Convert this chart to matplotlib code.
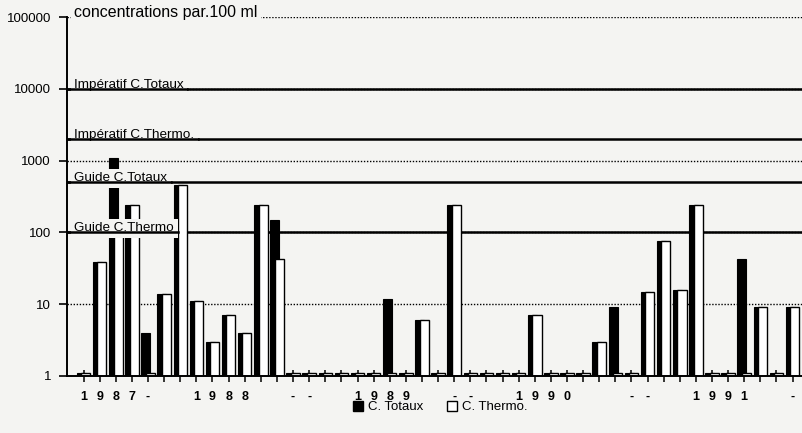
import matplotlib
matplotlib.use("Agg")
import matplotlib.pyplot as plt
from matplotlib.patches import Patch
from matplotlib.ticker import FixedLocator, NullLocator
import numpy as np

# Monthly samples, one character of the year label under each month
month_labels = ["1", "9", "8", "7", "-", "", "", "1", "9", "8", "8", "", "", "-", "-",
                "", "", "1", "9", "8", "9", "", "", "-", "-", "", "", "1", "9", "9",
                "0", "", "", "", "-", "-", "", "", "1", "9", "9", "1", "", "", "-"]

# Coliform counts per 100 ml (1.1 = below detection)
c_totaux = [1.1, 39, 1100, 240, 4, 14, 460, 11, 3, 7, 4, 240, 150, 1.1, 1.1,
            1.1, 1.1, 1.1, 1.1, 12, 1.1, 6, 1.1, 240, 1.1, 1.1, 1.1, 1.1, 7, 1.1,
            1.1, 1.1, 3, 9, 1.1, 15, 75, 16, 240, 1.1, 1.1, 43, 9, 1.1, 9]
c_thermo = [1.1, 39, 93, 240, 1.1, 14, 460, 11, 3, 7, 4, 240, 43, 1.1, 1.1,
            1.1, 1.1, 1.1, 1.1, 1.1, 1.1, 6, 1.1, 240, 1.1, 1.1, 1.1, 1.1, 7, 1.1,
            1.1, 1.1, 3, 1.1, 1.1, 15, 75, 16, 240, 1.1, 1.1, 1.1, 9, 1.1, 9]

# Reference thresholds (label, value)
thresholds = [("Impératif C.Totaux", 10000),
              ("Impératif C.Thermo.", 2000),
              ("Guide C.Totaux", 500),
              ("Guide C.Thermo", 100)]
decades = [1, 10, 100, 1000, 10000, 100000]

BG = "#f4f4f2"
FONT = "Liberation Sans"

fig = plt.figure(figsize=(8.03, 4.33), dpi=100, facecolor=BG)
ax = fig.add_axes([67 / 803, 1 - 376 / 433, 1 - 67 / 803, (376 - 17) / 433])
ax.set_facecolor(BG)

x = np.arange(len(month_labels))
ax.bar(x - 0.14, c_totaux, width=0.56, bottom=0, color="black",
       edgecolor="black", linewidth=0.8, zorder=2)
ax.bar(x + 0.14, c_thermo, width=0.56, bottom=0, color="white",
       edgecolor="black", linewidth=1.0, zorder=2.1)

ax.set_yscale("log")
ax.set_ylim(1, 100000)
ax.set_xlim(-1.03, 44.65)

# dotted decade grid
for d in decades[1:]:
    ax.axhline(d, color="black", lw=1.0, ls=(0, (1, 1.2)), zorder=1)

# threshold lines
for _, v in thresholds:
    ax.axhline(v, color="black", lw=1.8, zorder=1.5)

for s in ["top", "right"]:
    ax.spines[s].set_visible(False)
ax.spines["left"].set_linewidth(1.4)
ax.spines["bottom"].set_linewidth(1.4)
ax.spines["bottom"].set_zorder(5)

ax.yaxis.set_major_locator(FixedLocator(decades))
ax.yaxis.set_minor_locator(NullLocator())
ax.set_yticklabels([str(d) for d in decades], fontfamily=FONT, fontsize=9.5)
ax.tick_params(axis="y", direction="out", length=6, width=1.2, pad=5.5)

ax.set_xticks(x)
ax.set_xticklabels(month_labels, fontfamily=FONT, fontsize=9, fontweight="bold")
ax.tick_params(axis="x", direction="inout", length=9, width=1.1, pad=6)

# labels: x in axes fraction, y in data units
ytrans = ax.get_yaxis_transform()
box = dict(facecolor=BG, edgecolor="none", pad=2.5)
label_x = 0.010
ax.text(label_x, 100000, "concentrations par.100 ml", fontfamily=FONT, fontsize=11.5,
        va="baseline", ha="left", bbox=box, zorder=3, transform=ytrans)
labels = []
for name, v in thresholds:
    t = ax.text(label_x, v * 1.03, name, fontfamily=FONT, fontsize=9.7,
                va="baseline", ha="left", bbox=box, zorder=3, transform=ytrans)
    labels.append((t, v))

handles = [Patch(facecolor="black", edgecolor="black", label="C. Totaux"),
           Patch(facecolor="white", edgecolor="black", label="C. Thermo.")]
fig.legend(handles=handles, loc="center", bbox_to_anchor=(440 / 803, 1 - 407 / 433),
           ncol=2, frameon=False, handlelength=0.8, handleheight=0.8,
           handletextpad=0.35, columnspacing=1.8,
           prop={"family": FONT, "size": 9.5})

# keep each threshold line visible across its label box
fig.canvas.draw()
inv = ax.transAxes.inverted()
for t, v in labels:
    bb = t.get_bbox_patch().get_window_extent()
    right = inv.transform((bb.x1, bb.y0))[0]
    ax.axhline(v, xmin=0, xmax=right, color="black", lw=1.8, zorder=4)

fig.savefig("out.png", dpi=100, facecolor=BG)
